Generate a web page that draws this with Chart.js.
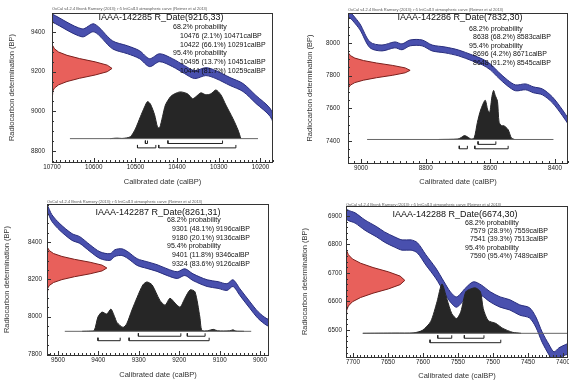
<!DOCTYPE html>
<html>
<head>
<meta charset="utf-8">
<script src="https://cdn.jsdelivr.net/npm/chart.js@4.4.1/dist/chart.umd.min.js"></script>
<style>
  html, body { margin: 0; padding: 0; background: #fff; }
  #wrap { position: relative; width: 569px; height: 380px; overflow: hidden; }
  canvas { position: absolute; }
</style>
</head>
<body>
<div id="wrap">
  <canvas id="c1" width="285" height="190" style="left:0;top:0"></canvas>
  <canvas id="c2" width="284" height="190" style="left:285px;top:0"></canvas>
  <canvas id="c3" width="285" height="190" style="left:0;top:190px"></canvas>
  <canvas id="c4" width="284" height="190" style="left:285px;top:190px"></canvas>
</div>
<script>
// OxCal calibration plots, 4 samples.

const HEADER = 'OxCal v4.2.4 Bronk Ramsey (2013); r:5 IntCal13 atmospheric curve (Reimer et al 2013)';
const FONT = "'Liberation Sans', Arial, sans-serif";

// shape of the red measured date, in sd steps
const redSteps = [-4, -3.5, -3, -2.5, -2, -1.5, -1, -0.5, 0, 0.5, 1, 1.5, 2, 2.5, 3, 3.5, 4];
const redShape = [0.003, 0.011, 0.04, 0.11, 0.25, 0.46, 0.72, 0.92, 1, 0.92, 0.72, 0.46, 0.25, 0.11, 0.04, 0.011, 0.003];

// ---------- IAAA-142285 ----------
const p1XLabels = [10700, 10600, 10500, 10400, 10300, 10200];
const p1YLabels = [9400, 9200, 9000, 8800];
const p1CurveYears = [10710, 10700, 10628, 10599, 10555, 10519, 10490, 10466, 10442, 10411, 10382, 10358, 10331, 10307, 10273, 10242, 10211, 10177, 10163, 10150];
const p1CurveBP    = [9475, 9470, 9395, 9420, 9335, 9310, 9285, 9245, 9270, 9245, 9210, 9185, 9200, 9185, 9150, 9120, 9060, 8995, 8925, 8870];
const p1PostYears  = [10560, 10545, 10530, 10512, 10500, 10488, 10478, 10471, 10464, 10454, 10447, 10442, 10435, 10428, 10416, 10406, 10392, 10375, 10363, 10355, 10343, 10331, 10319, 10307, 10295, 10283, 10266, 10254, 10247];
const p1PostProb   = [0, 0.01, 0.005, 0.04, 0.2, 0.45, 0.65, 0.76, 0.71, 0.49, 0.24, 0.22, 0.45, 0.69, 0.86, 0.92, 0.96, 0.92, 0.82, 0.86, 0.94, 0.9, 0.92, 1.0, 0.9, 0.69, 0.41, 0.18, 0];
const p1Range68 = [[10476, 10471, 2.1], [10422, 10291, 66.1]];
const p1Range95 = [[10495, 10451, 13.7], [10444, 10259, 81.7]];

// ---------- IAAA-142286 ----------
const p2XLabels = [9000, 8800, 8600, 8400];
const p2YLabels = [8000, 7800, 7600, 7400];
const p2CurveYears = [9050, 9034, 9025, 9003, 8972, 8935, 8895, 8873, 8848, 8811, 8780, 8740, 8699, 8656, 8625, 8600, 8575, 8547, 8522, 8491, 8467, 8439, 8408, 8377, 8358, 8340];
const p2CurveBP    = [8200, 8171, 8153, 8098, 7988, 7969, 7988, 7976, 8000, 8000, 7969, 7957, 7939, 7908, 7884, 7853, 7804, 7755, 7725, 7731, 7713, 7700, 7651, 7572, 7517, 7470];
const p2PostYears  = [8760, 8700, 8690, 8680, 8670, 8660, 8650, 8640, 8630, 8616, 8608, 8602, 8595, 8590, 8585, 8578, 8573, 8565, 8558, 8545, 8535, 8525];
const p2PostProb   = [0, 0.01, 0.04, 0.08, 0.05, 0.01, 0.03, 0.35, 0.6, 0.8, 0.6, 0.55, 0.88, 1.0, 0.9, 0.78, 0.35, 0.28, 0.28, 0.2, 0.03, 0];
const p2Range68 = [[8638, 8583, 68.2]];
const p2Range95 = [[8696, 8671, 4.2], [8648, 8545, 91.2]];

// ---------- IAAA-142287 ----------
const p3XLabels = [9500, 9400, 9300, 9200, 9100, 9000];
const p3YLabels = [8400, 8200, 8000, 7800];
const p3CurveYears = [9540, 9527, 9515, 9495, 9465, 9446, 9421, 9396, 9371, 9359, 9342, 9327, 9304, 9280, 9255, 9230, 9205, 9186, 9166, 9131, 9104, 9082, 9067, 9050, 9025, 9005, 8983, 8970];
const p3CurveBP    = [8610, 8582, 8529, 8480, 8427, 8411, 8368, 8330, 8320, 8341, 8346, 8330, 8293, 8277, 8261, 8239, 8223, 8239, 8212, 8180, 8170, 8159, 8180, 8132, 8062, 8009, 7971, 7965];
const p3PostYears  = [9440, 9420, 9410, 9401, 9391, 9379, 9369, 9360, 9354, 9339, 9330, 9317, 9304, 9290, 9280, 9267, 9248, 9235, 9223, 9210, 9198, 9186, 9173, 9161, 9149, 9144, 9130, 9116, 9105, 9075, 9067, 9060, 9040];
const p3PostProb   = [0, 0.005, 0.02, 0.29, 0.39, 0.35, 0.45, 0.3, 0.18, 0.08, 0.15, 0.43, 0.69, 0.94, 1.0, 0.94, 0.63, 0.53, 0.67, 0.57, 0.49, 0.67, 0.84, 0.8, 0.29, 0.02, 0.01, 0.04, 0.01, 0.01, 0.03, 0.005, 0];
const p3Range68 = [[9301, 9196, 48.1], [9180, 9136, 20.1]];
const p3Range95 = [[9401, 9346, 11.8], [9324, 9126, 83.6]];

// ---------- IAAA-142288 ----------
const p4XLabels = [7700, 7650, 7600, 7550, 7500, 7450, 7400];
const p4YLabels = [6900, 6800, 6700, 6600, 6500];
const p4CurveYears = [7720, 7708, 7697, 7683, 7666, 7655, 7641, 7630, 7617, 7608, 7596, 7582, 7570, 7561, 7552, 7539, 7528, 7517, 7504, 7490, 7476, 7462, 7448, 7439, 7430, 7420, 7413, 7406, 7397, 7385];
const p4CurveBP    = [6935, 6904, 6893, 6868, 6844, 6826, 6809, 6798, 6798, 6788, 6746, 6700, 6651, 6616, 6598, 6630, 6651, 6640, 6616, 6598, 6588, 6570, 6560, 6528, 6475, 6430, 6405, 6419, 6430, 6440];
const p4PostYears  = [7686, 7640, 7613, 7601, 7589, 7580, 7573, 7566, 7559, 7552, 7546, 7539, 7532, 7525, 7518, 7514, 7507, 7496, 7486, 7472, 7460];
const p4PostProb   = [0, 0.005, 0.01, 0.06, 0.24, 0.64, 1.0, 0.7, 0.4, 0.3, 0.44, 0.84, 0.9, 0.92, 0.84, 0.5, 0.26, 0.2, 0.1, 0.02, 0];
const p4Range68 = [[7579, 7559, 28.9], [7541, 7513, 39.3]];
const p4Range95 = [[7590, 7489, 95.4]];

const panels = [
  { id: 'c1', name: 'IAAA-142285', mean: 9216, sd: 33, xLabels: p1XLabels, yLabels: p1YLabels,
    curveYears: p1CurveYears, curveBP: p1CurveBP, postYears: p1PostYears, postProb: p1PostProb,
    r68: p1Range68, r95: p1Range95, base: [10657, 10206],
    frame: { left: 52, top: 13, right: 273, bottom: 162 },
    xMin: 10170, xMax: 10700, xMinor: 10, yMin: 8745, yMax: 9495, yMinor: 50,
    bandHalf: 20, redWidth: 144,
    yTickPad: 7, yTitlePad: 8.5, xTitlePad: 4,
    titleAt: [161, 18], probAt: [173, 27], indent: 7, lineGap: 8.8, headerAt: [52, 9] },
  { id: 'c2', name: 'IAAA-142286', mean: 7832, sd: 30, xLabels: p2XLabels, yLabels: p2YLabels,
    curveYears: p2CurveYears, curveBP: p2CurveBP, postYears: p2PostYears, postProb: p2PostProb,
    r68: p2Range68, r95: p2Range95, base: [8981, 8405],
    frame: { left: 63, top: 13, right: 283, bottom: 163 },
    xMin: 8360, xMax: 9040, xMinor: 20, yMin: 7265, yMax: 8183, yMinor: 50,
    bandHalf: 18, redWidth: 192,
    yTickPad: 8, yTitlePad: 21.5, xTitlePad: 4,
    titleAt: [175, 18], probAt: [184, 29], indent: 4, lineGap: 8.5, headerAt: [63, 10] },
  { id: 'c3', name: 'IAAA-142287', mean: 8261, sd: 31, xLabels: p3XLabels, yLabels: p3YLabels,
    curveYears: p3CurveYears, curveBP: p3CurveBP, postYears: p3PostYears, postProb: p3PostProb,
    r68: p3Range68, r95: p3Range95, base: [9483, 9022],
    frame: { left: 47, top: 14, right: 269, bottom: 165 },
    xMin: 8978, xMax: 9527, xMinor: 10, yMin: 7795, yMax: 8604, yMinor: 50,
    bandHalf: 18, redWidth: 148,
    yTickPad: 5, yTitlePad: 3.5, xTitlePad: 1,
    titleAt: [158, 23], probAt: [167, 30], indent: 5, lineGap: 8.8, headerAt: [47, 12] },
  { id: 'c4', name: 'IAAA-142288', mean: 6674, sd: 30, xLabels: p4XLabels, yLabels: p4YLabels,
    curveYears: p4CurveYears, curveBP: p4CurveBP, postYears: p4PostYears, postProb: p4PostProb,
    r68: p4Range68, r95: p4Range95, base: [7686, 7393],
    frame: { left: 61, top: 16, right: 283, bottom: 167 },
    xMin: 7393, xMax: 7710, xMinor: 5, yMin: 6405, yMax: 6935, yMinor: 20,
    bandHalf: 18, redWidth: 84,
    yTickPad: 4, yTitlePad: 16.5, xTitlePad: 0,
    titleAt: [170, 25], probAt: [180, 33], indent: 5, lineGap: 8.2, headerAt: [61, 15] }
];

function probLines(p) {
  const out = [{ t: '68.2% probability', h: true }];
  p.r68.forEach((r) => out.push({ t: `${r[0]} (${r[2]}%) ${r[1]}calBP` }));
  out.push({ t: '95.4% probability', h: true });
  p.r95.forEach((r) => out.push({ t: `${r[0]} (${r[2]}%) ${r[1]}calBP` }));
  return out;
}

// every tick between min and max on the minor step
function tickList(min, max, step) {
  const out = [];
  for (let v = Math.ceil(min / step) * step; v <= max; v += step) out.push({ value: v });
  return out;
}

function rangeBar(r, level) {
  return {
    data: [{ x: r[0], y: level + 0.06 }, { x: r[0], y: level }, { x: r[1], y: level }, { x: r[1], y: level + 0.06 }],
    yAxisID: 'yp', borderColor: '#222', borderWidth: 1, pointRadius: 0, fill: false, order: 1
  };
}

// frame, inward ticks and all the annotation text
function decoPlugin(p) {
  return {
    id: 'deco',
    afterDraw(chart) {
      const { ctx, chartArea: a, scales } = chart;
      ctx.save();
      ctx.strokeStyle = '#333';
      ctx.lineWidth = 1;
      ctx.strokeRect(a.left + 0.5, a.top + 0.5, a.right - a.left - 1, a.bottom - a.top);
      ctx.beginPath();
      scales.x.ticks.forEach((t) => {
        const px = Math.round(scales.x.getPixelForValue(t.value)) + 0.5;
        const len = p.xLabels.includes(t.value) ? 4 : 2;
        ctx.moveTo(px, a.bottom); ctx.lineTo(px, a.bottom - len);
      });
      scales.y.ticks.forEach((t) => {
        const py = Math.round(scales.y.getPixelForValue(t.value)) + 0.5;
        const len = p.yLabels.includes(t.value) ? 4 : 2;
        ctx.moveTo(a.left, py); ctx.lineTo(a.left + len, py);
      });
      ctx.stroke();

      ctx.fillStyle = '#555';
      ctx.font = `4px ${FONT}`;
      ctx.textBaseline = 'middle';
      ctx.textAlign = 'left';
      ctx.fillText(HEADER, p.headerAt[0], p.headerAt[1]);

      ctx.fillStyle = '#111';
      ctx.font = `9px ${FONT}`;
      ctx.textAlign = 'center';
      ctx.fillText(`${p.name} R_Date(${p.mean},${p.sd})`, p.titleAt[0], p.titleAt[1]);

      ctx.font = `7px ${FONT}`;
      ctx.textAlign = 'left';
      probLines(p).forEach((l, i) => {
        const x = p.probAt[0] + (l.h ? 0 : p.indent);
        ctx.fillText(l.t, x, p.probAt[1] + i * p.lineGap);
      });
      ctx.restore();
    }
  };
}

function buildPanel(p) {
  const canvas = document.getElementById(p.id);
  const W = canvas.width, H = canvas.height;

  const upper = p.curveYears.map((x, i) => ({ x, y: p.curveBP[i] + p.bandHalf }));
  const lower = p.curveYears.map((x, i) => ({ x, y: p.curveBP[i] - p.bandHalf })).reverse();
  const band = upper.concat(lower);

  const red = redSteps.map((k, i) => ({ x: p.xMax - p.redWidth * redShape[i], y: p.mean + k * p.sd }));
  red.unshift({ x: p.xMax + 20, y: red[0].y });
  red.push({ x: p.xMax + 20, y: red[red.length - 1].y });

  const post = p.postYears.map((x, i) => ({ x, y: p.postProb[i] }));

  const datasets = [
    { data: band, yAxisID: 'y', fill: 'shape', backgroundColor: '#4950ae', borderColor: '#272c7c',
      borderWidth: 1, pointRadius: 0, tension: 0.3, order: 5 },
    { data: red, yAxisID: 'y', fill: 'shape', backgroundColor: '#e8605b', borderColor: '#7a1f1c',
      borderWidth: 1, pointRadius: 0, order: 4 },
    { data: post, yAxisID: 'yp', fill: { value: 0 }, backgroundColor: '#262626', borderColor: '#262626',
      borderWidth: 1, pointRadius: 0, tension: 0.25, order: 3 },
    { data: [{ x: p.base[0], y: 0 }, { x: p.base[1], y: 0 }], yAxisID: 'yp', borderColor: '#666',
      borderWidth: 1, pointRadius: 0, fill: false, order: 2 }
  ];
  p.r68.forEach((r) => datasets.push(rangeBar(r, -0.1)));
  p.r95.forEach((r) => datasets.push(rangeBar(r, -0.19)));

  const tickFont = { family: FONT, size: 6.3 };
  const titleFont = { family: FONT, size: 7.5, lineHeight: 1 };

  new Chart(canvas, {
    type: 'line',
    data: { datasets },
    options: {
      responsive: false,
      animation: false,
      events: [],
      layout: { padding: { left: 0, top: p.frame.top, right: W - p.frame.right, bottom: 0 } },
      plugins: { legend: { display: false }, tooltip: { enabled: false } },
      scales: {
        x: {
          type: 'linear', reverse: true, min: p.xMin, max: p.xMax,
          afterBuildTicks: (s) => { s.ticks = tickList(p.xMin, p.xMax, p.xMinor); },
          afterFit: (s) => { s.height = H - p.frame.bottom; },
          grid: { display: false, drawTicks: false }, border: { display: false },
          ticks: { autoSkip: false, maxRotation: 0, minRotation: 0, padding: 1,
            color: '#222', font: tickFont,
            callback: (v) => (p.xLabels.includes(v) ? String(v) : '') },
          title: { display: true, text: 'Calibrated date (calBP)', color: '#333', font: titleFont,
            padding: { top: 0, bottom: p.xTitlePad } }
        },
        y: {
          type: 'linear', min: p.yMin, max: p.yMax,
          afterBuildTicks: (s) => { s.ticks = tickList(p.yMin, p.yMax, p.yMinor); },
          afterFit: (s) => { s.width = p.frame.left; },
          grid: { display: false, drawTicks: false }, border: { display: false },
          ticks: { autoSkip: false, padding: p.yTickPad, color: '#222', font: tickFont,
            callback: (v) => (p.yLabels.includes(v) ? String(v) : '') },
          title: { display: true, text: 'Radiocarbon determination (BP)', color: '#333', font: titleFont,
            padding: { top: p.yTitlePad, bottom: 0 } }
        },
        yp: { type: 'linear', axis: 'y', display: false, min: -0.48, max: 2.58 }
      }
    },
    plugins: [decoPlugin(p)]
  });
}

panels.forEach(buildPanel);
</script>
</body>
</html>
